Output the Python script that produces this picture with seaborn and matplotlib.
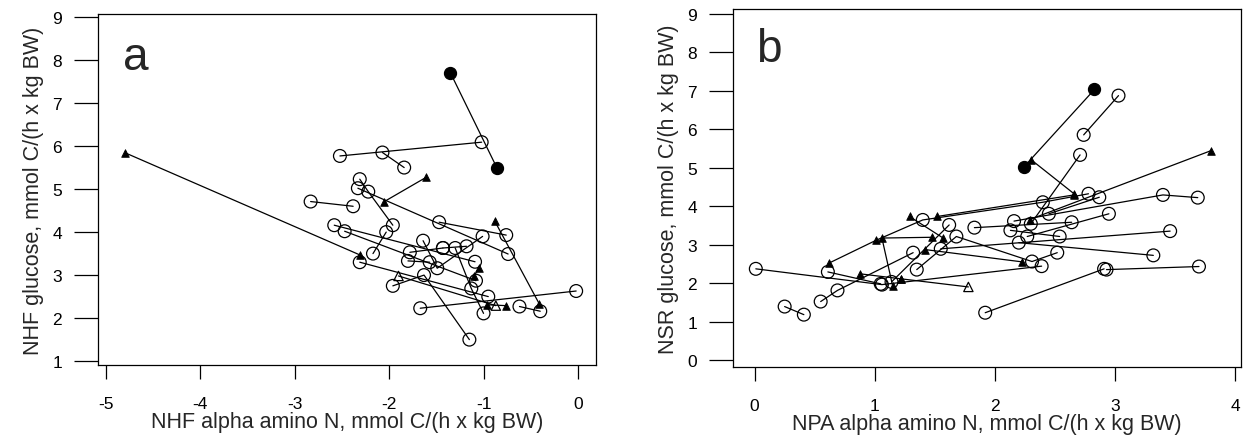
import matplotlib
matplotlib.use("Agg")
import matplotlib.pyplot as plt
import seaborn as sns
import pandas as pd

# Marker codes: c = open circle, f = filled circle, t = filled triangle, o = open triangle
# Each inner list is one connected track (drawn as a polyline).

# ---------------- Panel a ----------------
a_x = [[-1.35, -0.86], [-4.79, -2.31], [-1.61, -2.05], [-0.88, -0.41],
       [-2.52, -1.02], [-2.07, -1.84], [-2.83, -2.38], [-2.31, -2.22, -1.96],
       [-2.33, -0.74], [-1.47, -0.76], [-2.03, -2.17], [-2.58, -1.09],
       [-2.47, -1.08], [-1.64, -1.49, -1.01], [-1.30, -1.13, -1.00], [-1.78, -1.43],
       [-1.43, -1.18], [-1.80, -1.57], [-1.96, -1.63, -1.15], [-2.31, -0.95],
       [-1.67, -0.02], [-0.62, -0.40], [-1.05, -1.10], [-0.96, -0.76], [-1.90, -0.87]]
a_y = [[7.70, 5.50], [5.84, 3.47], [5.27, 4.71], [4.25, 2.33],
       [5.77, 6.09], [5.85, 5.50], [4.71, 4.60], [5.23, 4.94, 4.16],
       [5.02, 3.49], [4.23, 3.93], [4.00, 3.50], [4.16, 3.31],
       [4.02, 2.87], [3.80, 3.16, 3.90], [3.63, 2.69, 2.11], [3.53, 3.63],
       [3.63, 3.67], [3.33, 3.30], [2.75, 3.00, 1.50], [3.30, 2.50],
       [2.23, 2.63], [2.27, 2.16], [3.16, 2.98], [2.31, 2.29], [2.98, 2.29]]
a_mk = ["ff", "tt", "tt", "tt",
        "cc", "cc", "cc", "ccc",
        "cc", "cc", "cc", "cc",
        "cc", "ccc", "ccc", "cc",
        "cc", "cc", "ccc", "cc",
        "cc", "cc", "tt", "tt", "oo"]

# ---------------- Panel b ----------------
b_x = [[2.83, 2.24], [2.30, 2.66], [0.25, 0.41], [1.32, 0.69, 0.55],
       [0.01, 1.06, 2.39], [1.92, 2.91], [2.93, 3.70], [2.74, 3.03],
       [2.71, 2.30], [0.61, 1.05], [1.62, 1.14], [1.35, 1.68, 2.31, 2.52],
       [1.55, 3.46], [1.83, 2.64], [2.16, 3.40, 3.69], [2.20, 3.32],
       [2.27, 2.95], [2.13, 2.54], [2.45, 2.87], [0.62, 1.01, 1.40, 2.40, 2.78],
       [1.48, 1.06, 1.15], [1.29, 1.57], [1.52, 2.66], [1.42, 2.23],
       [0.88, 1.22], [2.29, 3.80], [1.22, 1.78]]
b_y = [[7.04, 5.02], [5.22, 4.33], [1.40, 1.19], [2.80, 1.82, 1.53],
       [2.38, 1.97, 2.45], [1.24, 2.38], [2.36, 2.44], [5.86, 6.88],
       [5.34, 3.55], [2.30, 1.99], [3.52, 2.04], [2.36, 3.22, 2.57, 2.80],
       [2.90, 3.36], [3.45, 3.59], [3.62, 4.30, 4.23], [3.06, 2.73],
       [3.22, 3.81], [3.38, 3.22], [3.81, 4.24], [2.53, 3.12, 3.65, 4.11, 4.33],
       [3.20, 3.18, 1.93], [3.74, 3.18], [3.74, 4.30], [2.88, 2.56],
       [2.25, 2.12], [3.66, 5.45], [2.12, 1.91]]
b_mk = ["ff", "tt", "cc", "ccc",
        "ccc", "cc", "cc", "cc",
        "cc", "cc", "cc", "cccc",
        "cc", "cc", "ccc", "cc",
        "cc", "cc", "cc", "ttccc",
        "ttt", "tt", "tt", "tt",
        "tt", "tt", "to"]

a_xticks = [-5, -4, -3, -2, -1, 0]
a_yticks = [1, 2, 3, 4, 5, 6, 7, 8, 9]
b_xticks = [0, 1, 2, 3, 4]
b_yticks = [0, 1, 2, 3, 4, 5, 6, 7, 8, 9]


def make_df(xs, ys, mks):
    rows = []
    for i, (tx, ty, tm) in enumerate(zip(xs, ys, mks)):
        for px, py, pm in zip(tx, ty, tm):
            rows.append({"id": i, "x": px, "y": py, "mk": pm})
    return pd.DataFrame(rows)


sns.set_theme(style="white")
plt.rcParams["font.family"] = ["Liberation Sans", "DejaVu Sans"]

fig = plt.figure(figsize=(12.52, 4.39), dpi=100)
ax_a = fig.add_axes([98 / 1252, 1 - 366 / 439, 498 / 1252, 351 / 439])
ax_b = fig.add_axes([733 / 1252, 1 - 368 / 439, 508 / 1252, 358 / 439])

mstyle = {
    "c": dict(marker="o", s=85, facecolor="none", edgecolor="black", linewidth=0.9),
    "f": dict(marker="o", s=75, facecolor="black", edgecolor="black", linewidth=0.9),
    "t": dict(marker="^", s=30, facecolor="black", edgecolor="black", linewidth=0.6),
    "o": dict(marker="^", s=45, facecolor="none", edgecolor="black", linewidth=0.9),
}


def draw(ax, df, xlim, ylim, xticks, yticks, xlabel, ylabel, letter, lpos):
    sns.lineplot(data=df, x="x", y="y", units="id", estimator=None, sort=False,
                 color="black", linewidth=0.9, ax=ax, legend=False)
    for g, kw in mstyle.items():
        sub = df[df["mk"] == g]
        if len(sub):
            sns.scatterplot(data=sub, x="x", y="y", ax=ax, legend=False, zorder=3, **kw)
    ax.set_xlim(*xlim)
    ax.set_ylim(*ylim)
    ax.set_xticks(xticks)
    ax.set_yticks(yticks)
    ax.set_xticklabels([str(t) for t in xticks], fontsize=12.5)
    ax.set_yticklabels([str(t) for t in yticks], fontsize=12.5)
    ax.tick_params(axis="x", direction="out", length=10, width=0.9, pad=12, colors="black")
    ax.tick_params(axis="y", direction="out", length=17, width=0.9, pad=9, colors="black")
    ax.tick_params(bottom=True, left=True)
    for sp in ax.spines.values():
        sp.set_color("black")
        sp.set_linewidth(0.9)
        sp.set_visible(True)
    ax.set_xlabel(xlabel, fontsize=15.5, labelpad=0)
    ax.set_ylabel(ylabel, fontsize=15.5, labelpad=6)
    ax.text(lpos[0], lpos[1], letter, transform=ax.transAxes, fontsize=33,
            va="top", ha="left")


draw(ax_a, make_df(a_x, a_y, a_mk), (-5.08, 0.19), (0.91, 9.07),
     a_xticks, a_yticks, "NHF alpha amino N, mmol C/(h x kg BW)",
     "NHF glucose, mmol C/(h x kg BW)", "a", (0.05, 0.94))
draw(ax_b, make_df(b_x, b_y, b_mk), (-0.18, 4.05), (-0.17, 9.13),
     b_xticks, b_yticks, "NPA alpha amino N, mmol C/(h x kg BW)",
     "NSR glucose, mmol C/(h x kg BW)", "b", (0.045, 0.95))

fig.savefig("out.png", dpi=100, facecolor="white")
